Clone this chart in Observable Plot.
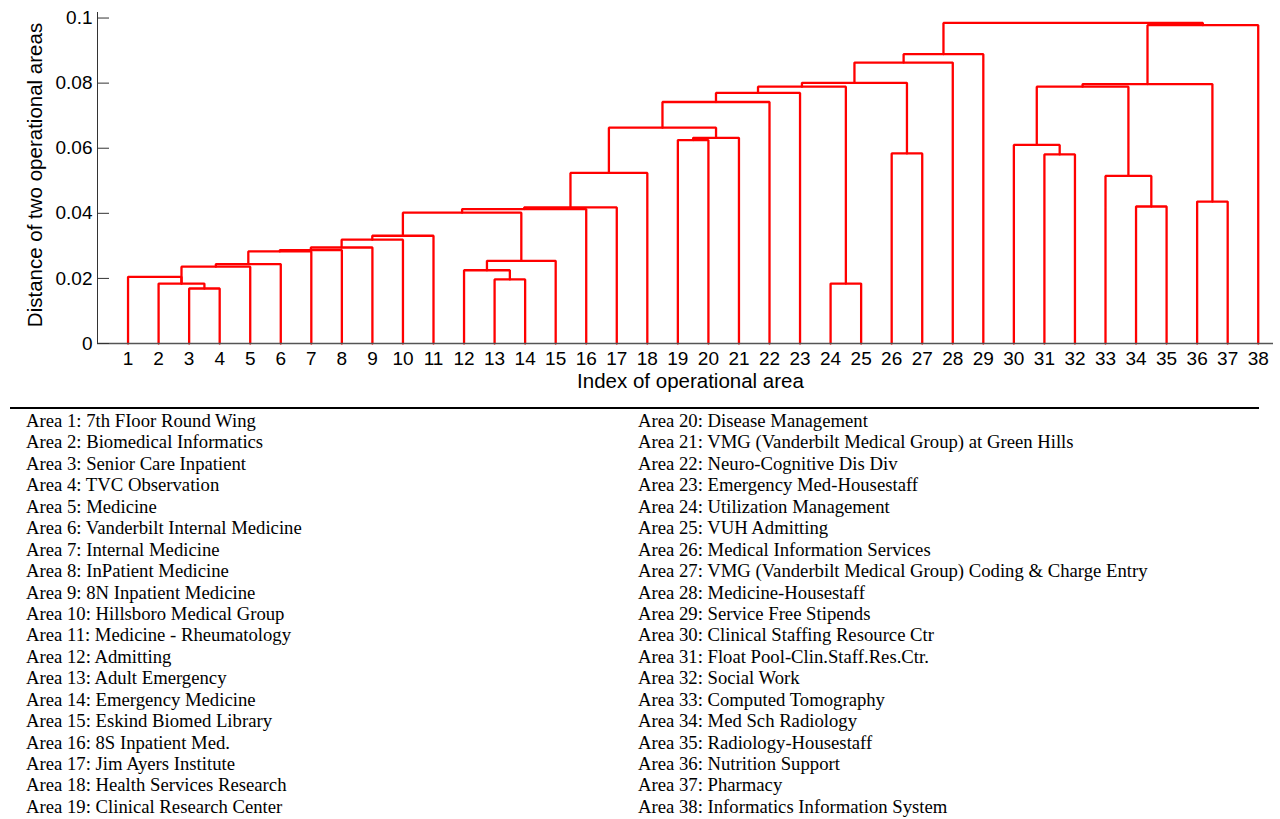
<!DOCTYPE html>
<html>
<head>
<meta charset="utf-8">
<script src="https://cdn.jsdelivr.net/npm/d3@7"></script>
<script src="https://cdn.jsdelivr.net/npm/@observablehq/plot@0.6"></script>
<style>
  html, body { margin: 0; padding: 0; background: #fff; }
  #wrap { position: relative; width: 1280px; height: 819px; overflow: hidden; }
  #chart { position: absolute; left: 0; top: 0; }
  #rule { position: absolute; left: 10px; top: 407px; width: 1249px; height: 2px; background: #000; }
  .col { position: absolute; top: 410px; font-family: "Liberation Serif", "Times New Roman", serif;
         font-size: 18.7px; line-height: 21.44px; color: #000; white-space: nowrap; }
</style>
</head>
<body>
<div id="wrap">
  <div id="chart"></div>
  <div id="rule"></div>
  <div class="col" id="colL" style="left:26px"></div>
  <div class="col" id="colR" style="left:638px"></div>
</div>
<script>
// Leaf indices (operational areas), in dendrogram order
const leafIndex = [1,2,3,4,5,6,7,8,9,10,11,12,13,14,15,16,17,18,19,20,21,22,23,24,25,26,27,28,29,30,31,32,33,34,35,36,37,38];

// Area names
const areaNames = [
  "7th FIoor Round Wing", "Biomedical Informatics", "Senior Care Inpatient", "TVC Observation",
  "Medicine", "Vanderbilt Internal Medicine", "Internal Medicine", "InPatient Medicine",
  "8N Inpatient Medicine", "Hillsboro Medical Group", "Medicine - Rheumatology", "Admitting",
  "Adult Emergency", "Emergency Medicine", "Eskind Biomed Library", "8S Inpatient Med.",
  "Jim Ayers Institute", "Health Services Research", "Clinical Research Center", "Disease Management",
  "VMG (Vanderbilt Medical Group) at Green Hills", "Neuro-Cognitive Dis Div", "Emergency Med-Housestaff",
  "Utilization Management", "VUH Admitting", "Medical Information Services",
  "VMG (Vanderbilt Medical Group) Coding & Charge Entry", "Medicine-Housestaff", "Service Free Stipends",
  "Clinical Staffing Resource Ctr", "Float Pool-Clin.Staff.Res.Ctr.", "Social Work", "Computed Tomography",
  "Med Sch Radiology", "Radiology-Housestaff", "Nutrition Support", "Pharmacy", "Informatics Information System"
];

// Linkage: merge k creates cluster 39+k from (mergeLeft[k], mergeRight[k]) at mergeHeight[k]
const mergeLeft   = [3, 2, 1, 40, 42, 43, 44, 45, 46, 47, 13, 12, 50, 48, 52, 53, 54, 19, 56, 55, 58, 59, 24, 60, 26, 62, 64, 65, 31, 30, 34, 33, 68, 36, 71, 73, 66];
const mergeRight  = [4, 39, 40, 5, 6, 7, 8, 9, 10, 11, 14, 49, 15, 51, 16, 17, 18, 20, 21, 57, 22, 23, 25, 61, 27, 63, 28, 29, 32, 67, 35, 69, 70, 37, 72, 38, 74];
const mergeHeight = [0.0169, 0.0184, 0.0205, 0.0236, 0.0244, 0.0283, 0.0287, 0.0295, 0.0319, 0.0331,
                     0.0197, 0.0225, 0.0254, 0.0402, 0.0413, 0.0418, 0.0524, 0.0625, 0.0632, 0.0663,
                     0.0742, 0.0770, 0.0184, 0.0789, 0.0584, 0.0801, 0.0863, 0.0889, 0.0581, 0.0610,
                     0.0421, 0.0515, 0.0789, 0.0436, 0.0797, 0.0978, 0.0985];

const yTicks = [0, 0.02, 0.04, 0.06, 0.08, 0.1];

// Build the U-shaped links
const pos = {}, hgt = {};
leafIndex.forEach(i => { pos[i] = i; hgt[i] = 0; });
const segs = [];
mergeLeft.forEach((a, k) => {
  const b = mergeRight[k], h = mergeHeight[k], id = 39 + k;
  segs.push({id, x: pos[a], y: hgt[a]}, {id, x: pos[a], y: h}, {id, x: pos[b], y: h}, {id, x: pos[b], y: hgt[b]});
  pos[id] = (pos[a] + pos[b]) / 2;
  hgt[id] = h;
});

const chart = Plot.plot({
  width: 1280,
  height: 395,
  marginLeft: 97,
  marginRight: 7,
  marginTop: 12,
  marginBottom: 52,
  style: {fontFamily: "'Liberation Sans', Arial, sans-serif", fontSize: "19px", color: "#000", background: "#fff"},
  x: {type: "linear", domain: [0, 38.5]},
  y: {type: "linear", domain: [0, 0.1017]},
  marks: [
    Plot.line(segs, {x: "x", y: "y", z: "id", stroke: "#ff0000", strokeWidth: 2.3, strokeLinejoin: "miter", curve: "linear"}),
    Plot.ruleX([0], {stroke: "#333", strokeWidth: 1}),
    Plot.ruleY([0], {stroke: "#555", strokeWidth: 1.3}),
    Plot.axisY(yTicks, {tickSize: -12, tickPadding: 17, stroke: "#333", tickFormat: d => String(d), label: null, fontSize: 19}),
    Plot.axisX(leafIndex, {tickSize: 0, tickPadding: 8, tickFormat: d => String(d), label: null, fontSize: 19}),
    Plot.text(["Index of operational area"], {frameAnchor: "bottom", textAnchor: "middle", dx: 5, dy: 44, fontSize: 20.5}),
    Plot.text(["Distance of two operational areas"], {frameAnchor: "left", textAnchor: "middle", rotate: -90, dx: -62, dy: -3, fontSize: 20.5})
  ]
});
document.getElementById("chart").appendChild(chart);

const colL = document.getElementById("colL"), colR = document.getElementById("colR");
leafIndex.forEach((i, k) => {
  const div = document.createElement("div");
  div.textContent = `Area ${i}: ${areaNames[k]}`;
  (i <= 19 ? colL : colR).appendChild(div);
});
</script>
</body>
</html>
